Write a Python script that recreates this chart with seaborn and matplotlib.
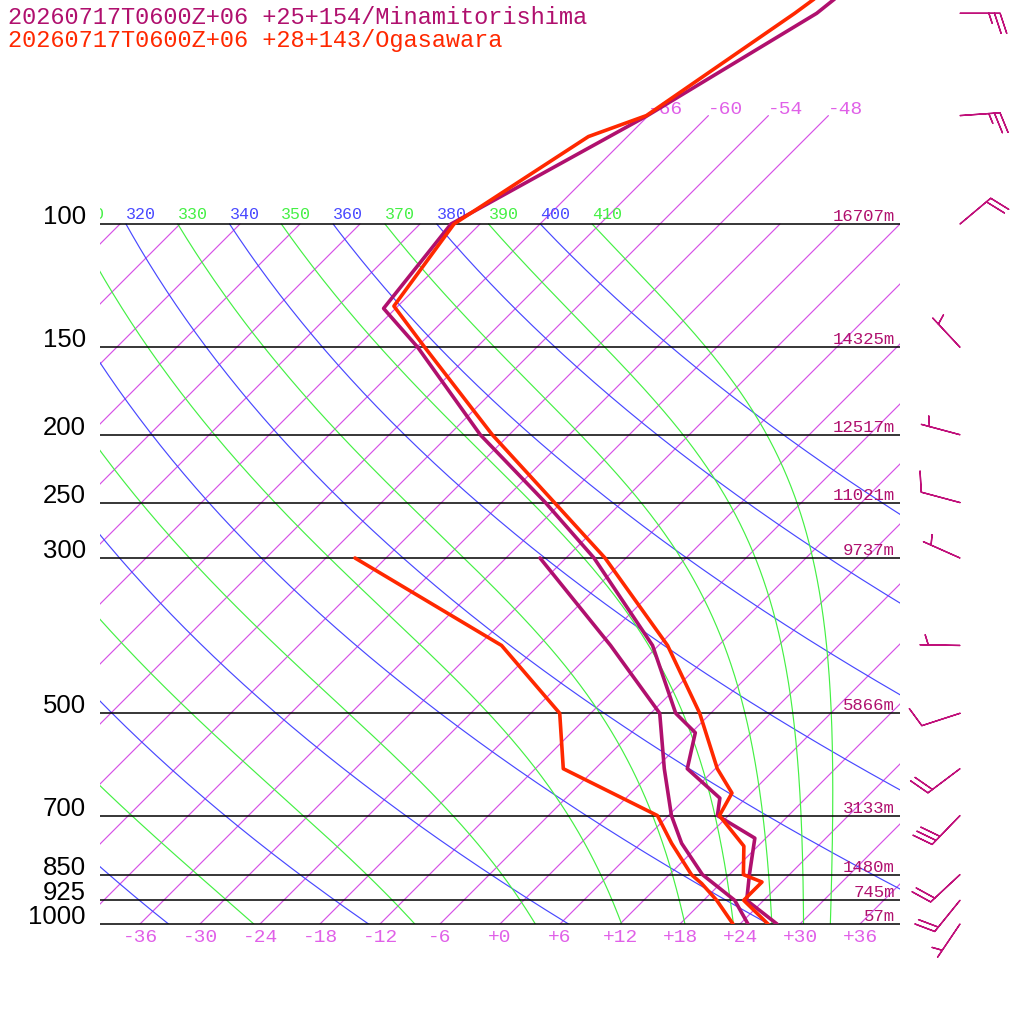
import numpy as np
import pandas as pd
import matplotlib
matplotlib.use("Agg")
import matplotlib.pyplot as plt
import matplotlib.transforms as mtransforms
import seaborn as sns

# ---------------- data ----------------
title_mt = "20260717T0600Z+06 +25+154/Minamitorishima"
title_og = "20260717T0600Z+06 +28+143/Ogasawara"

# Minamitorishima temperature / dew point (hPa, degC)
p_mt = [1000, 925, 850, 754, 700, 661, 600, 533, 500, 400, 300, 250, 200, 150, 132, 100, 70, 50, 30]
T_mt = [27.7, 22.3, 20.0, 16.9, 10.9, 9.4, 3.2, 0.4, -3.5, -12.6, -27.2, -37.6, -50.9, -65.9, -73.2, -74.9, -66.1, -59.4, -55.5]
p_mtd = [1000, 925, 850, 767, 700, 600, 500, 400, 300]
Td_mt = [24.8, 21.1, 15.3, 10.1, 6.3, 0.9, -5.1, -16.8, -32.6]

# Ogasawara temperature / dew point
p_og = [1000, 925, 871, 850, 774, 700, 650, 600, 500, 400, 300, 250, 200, 150, 131, 100, 75, 70, 50, 30]
T_og = [26.8, 22.0, 22.0, 19.4, 16.6, 11.1, 10.1, 6.2, -1.1, -11.1, -26.1, -36.7, -49.7, -65.2, -72.4, -74.6, -69.9, -66.2, -61.6, -56.0]
p_ogd = [1000, 925, 875, 850, 767, 700, 600, 500, 400, 300]
Td_og = [23.3, 19.3, 16.1, 14.2, 9.1, 4.9, -9.2, -15.1, -27.7, -51.1]

# winds (Minamitorishima): direction from (deg), speed (kt)
p_wind = [1000, 925, 850, 700, 600, 500, 400, 300, 250, 200, 150, 100, 70, 50]
wdir = [214, 219, 227, 224, 233, 252, 271, 294, 285, 285, 317, 50, 86, 90]
wspd = [5, 20, 20, 30, 20, 10, 5, 5, 10, 5, 5, 20, 25, 25]

# standard levels, labels and heights
p_levels = [1000, 925, 850, 700, 500, 300, 250, 200, 150, 100]
p_labels = ["1000", "925", "850", "700", "500", "300", "250", "200", "150", "100"]
heights = ["57m", "745m", "1480m", "3133m", "5866m", "9737m", "11021m", "12517m", "14325m", "16707m"]

iso_temps = list(range(-108, 37, 6))
iso_top_labelled = [-66, -60, -54, -48]
bottom_ticks = list(range(-36, 37, 6))
dry_thetas = list(range(240, 401, 20))
moist_thetas = list(range(250, 411, 20))
theta_labels = list(range(320, 411, 10))
theta_clipped = 310          # only its last digit peeks into the frame

# ---------------- style ----------------
C_MT = "#b0106e"
C_OG = "#ff2800"
C_ISO = "#d652e6"
C_ISO_TXT = "#e060e8"
C_BLUE = "#4848ff"
C_GREEN = "#44f044"
C_BARB = "#c0107a"

sns.set_style("white")
plt.rcParams['font.family'] = ['DejaVu Sans']

SKEW = 30.4
KAPPA = 0.2857


def skew_x(T, p):
    return np.asarray(T, dtype=float) + SKEW * np.log(1000.0 / np.asarray(p, dtype=float))


def moist_curve(theta, pgrid):
    Rd, Cp, Lv, eps = 287.04, 1005.7, 2.501e6, 0.622

    def f(T, p):
        es = 6.112 * np.exp(17.67 * (T - 273.15) / (T - 29.65))
        rs = eps * es / (p - es)
        return (Rd * T + Lv * rs) / (Cp + Lv * Lv * rs * eps / (Rd * T * T))

    T = theta * (pgrid[0] / 1000.0) ** KAPPA
    out = [T]
    for i in range(1, len(pgrid)):
        p0, p1 = pgrid[i - 1], pgrid[i]
        h = np.log(p1 / p0)
        pm = np.sqrt(p0 * p1)
        k1 = f(T, p0)
        k2 = f(T + h / 2 * k1, pm)
        k3 = f(T + h / 2 * k2, pm)
        k4 = f(T + h * k3, p1)
        T = T + h / 6 * (k1 + 2 * k2 + 2 * k3 + k4)
        out.append(T)
    return np.array(out) - 273.15


fig = plt.figure(figsize=(10.24, 10.24), dpi=100)
fig.patch.set_facecolor("white")
ax = fig.add_axes([100 / 1024, 100 / 1024, 800 / 1024, 924 / 1024])
ax.set_yscale('log')
p_top = 1000 * np.exp(-924 / 304)

# isotherms
for t in iso_temps:
    ptop_i = 70 if t in iso_top_labelled else 100
    pp = np.array([1000.0, ptop_i])
    ax.plot(skew_x([t, t], pp), pp, color=C_ISO, lw=0.85, zorder=1)

# dry adiabats
pg = np.geomspace(1000, 100, 200)
for th in dry_thetas:
    T = th * (pg / 1000.0) ** KAPPA - 273.15
    ax.plot(skew_x(T, pg), pg, color=C_BLUE, lw=0.85, zorder=1)

# pseudo adiabats (integrated down from 100 hPa)
pg_up = np.geomspace(100, 1000, 300)
for th in moist_thetas:
    T = moist_curve(th, pg_up)
    ax.plot(skew_x(T, pg_up), pg_up, color=C_GREEN, lw=0.85, zorder=1)

# isobars
ax.hlines(p_levels, -40, 40, colors="black", lw=1.1, zorder=2, clip_on=False)

# soundings
for pp, tt, col in [(p_mtd, Td_mt, C_MT), (p_ogd, Td_og, C_OG), (p_mt, T_mt, C_MT), (p_og, T_og, C_OG)]:
    df = pd.DataFrame({"x": skew_x(tt, pp), "p": pp})
    sns.lineplot(data=df, x="x", y="p", sort=False, estimator=None, color=col,
                 lw=2.6, ax=ax, zorder=5)

ax.set_xlim(-40, 40)
ax.set_ylim(1000, p_top)
ax.axis('off')

# pressure labels
for p, lab in zip(p_levels, p_labels):
    ax.text(-41.4, p, lab, ha='right', va='baseline', fontsize=18.5,
            family='Liberation Sans', color='black', clip_on=False)

# heights
trans_up = mtransforms.offset_copy(ax.transData, fig=fig, x=0, y=3, units='dots')
for p, h in zip(p_levels, heights):
    ax.text(39.5, p, h, transform=trans_up, ha='right', va='baseline', fontsize=12.5,
            family='Liberation Mono', color=C_MT, zorder=6)

# theta labels at 100 hPa
trans_th = mtransforms.offset_copy(ax.transData, fig=fig, x=0, y=5, units='dots')
for th in theta_labels:
    T100 = th * 0.1 ** KAPPA - 273.15
    col = C_BLUE if th % 20 == 0 else C_GREEN
    ax.text(skew_x(T100, 100), 100, str(th), transform=trans_th, ha='left', va='baseline',
            fontsize=12, family='Liberation Mono', color=col, clip_on=True, zorder=3)
# the 310 label is cut by the frame: only the right part of its last digit shows
T100 = theta_clipped * 0.1 ** KAPPA - 273.15
trans_th2 = mtransforms.offset_copy(ax.transData, fig=fig, x=20, y=5, units='dots')
ax.text(skew_x(T100, 100), 100, str(theta_clipped)[-1], transform=trans_th2, ha='left',
        va='baseline', fontsize=12, family='Liberation Mono', color=C_GREEN,
        clip_on=True, zorder=3)

# isotherm labels (top)
trans_top = mtransforms.offset_copy(ax.transData, fig=fig, x=-1, y=2, units='dots')
for t in iso_top_labelled:
    ax.text(skew_x(t, 70), 70, f"{t:+d}", transform=trans_top, ha='left', va='baseline',
            fontsize=14, family='Liberation Mono', color=C_ISO_TXT)

# isotherm labels (bottom)
blend = mtransforms.blended_transform_factory(ax.transData, ax.transAxes)
trans_bot = mtransforms.offset_copy(blend, fig=fig, x=0, y=-5, units='dots')
for t in bottom_ticks:
    ax.text(t, 0, f"{t:+d}", transform=trans_bot, ha='center', va='top',
            fontsize=14, family='Liberation Mono', color=C_ISO_TXT, clip_on=False)

# wind barbs
wd = np.deg2rad(np.array(wdir, dtype=float))
ws = np.array(wspd, dtype=float)
u = -ws * np.sin(wd)
v = -ws * np.cos(wd)
ax.barbs(np.full(len(p_wind), 46.0), p_wind, u, v, length=7.6, color=C_BARB,
         linewidth=1.0, clip_on=False, sizes=dict(height=0.5, width=0.33, spacing=0.14),
         zorder=6)

# titles
fig.text(8 / 1024, 1 - 18 / 1024, title_mt, ha='left', va='center', fontsize=17,
         family='Liberation Mono', color=C_MT)
fig.text(8 / 1024, 1 - 41 / 1024, title_og, ha='left', va='center', fontsize=17,
         family='Liberation Mono', color=C_OG)

fig.savefig("out.png", dpi=100, facecolor="white")
